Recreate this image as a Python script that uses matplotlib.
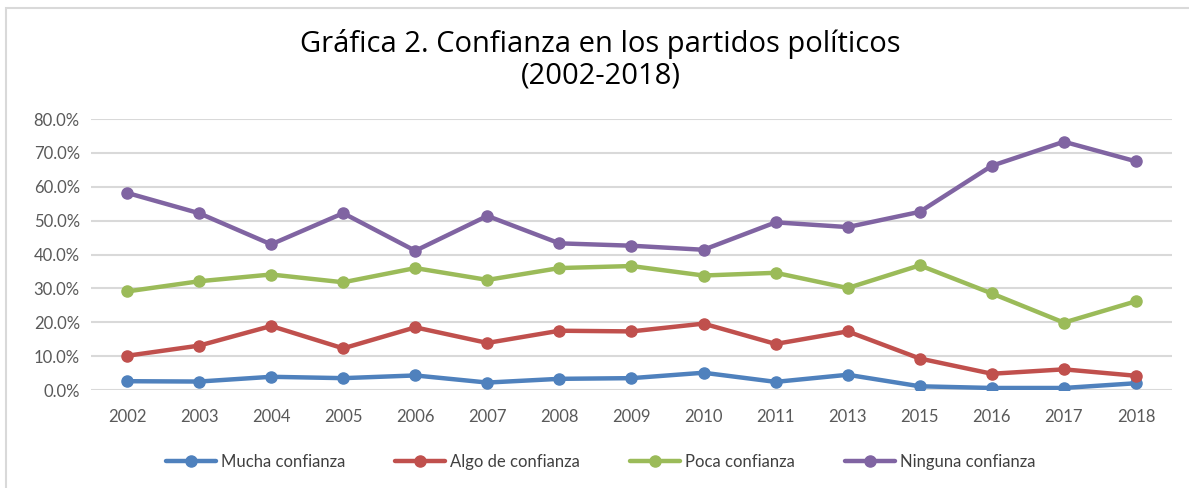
import matplotlib
matplotlib.use('Agg')
import matplotlib.pyplot as plt
from matplotlib.patches import Rectangle
from matplotlib.ticker import PercentFormatter

# ---------- data ----------
years = ['2002', '2003', '2004', '2005', '2006', '2007', '2008', '2009',
         '2010', '2011', '2013', '2015', '2016', '2017', '2018']
mucha = [2.6, 2.5, 3.9, 3.5, 4.3, 2.2, 3.3, 3.5, 5.1, 2.4, 4.5, 1.1, 0.6, 0.6, 2.0]
algo = [10.1, 13.1, 18.9, 12.3, 18.5, 13.9, 17.5, 17.3, 19.6, 13.6, 17.3, 9.3, 4.8, 6.1, 4.2]
poca = [29.1, 32.1, 34.1, 31.8, 36.0, 32.5, 36.0, 36.6, 33.8, 34.6, 30.1, 36.8, 28.5, 19.9, 26.2]
ninguna = [58.2, 52.2, 43.0, 52.2, 41.1, 51.4, 43.3, 42.6, 41.4, 49.5, 48.1, 52.6, 66.2, 73.3, 67.5]

series = [
    ('Mucha confianza', mucha, '#4F81BD'),
    ('Algo de confianza', algo, '#C0504D'),
    ('Poca confianza', poca, '#9BBB59'),
    ('Ninguna confianza', ninguna, '#8064A2'),
]

plt.rcParams['font.family'] = ['Lato', 'DejaVu Sans']

fig = plt.figure(figsize=(11.89, 4.88), dpi=100)
ax = fig.add_axes([0.0765, 0.2008, 0.9092, 0.5553])

x = list(range(len(years)))
for label, vals, color in series:
    ax.plot(x, vals, color=color, linewidth=3.2, marker='o', markersize=8,
            label=label, solid_capstyle='round')

ax.set_xlim(-0.5, len(years) - 0.5)
ax.set_ylim(0, 80)
ax.set_yticks(range(0, 81, 10))
ax.yaxis.set_major_formatter(PercentFormatter(decimals=1))
ax.set_xticks(x)
ax.set_xticklabels(years)
ax.grid(axis='y', color='#D9D9D9', linewidth=1.5)
ax.set_axisbelow(True)
for s in ax.spines.values():
    s.set_visible(False)
ax.tick_params(length=0, labelsize=12, colors='#595959', pad=8)
ax.tick_params(axis='x', pad=14)

# title (two lines, centred over the chart)
title_font = ['Open Sans', 'DejaVu Sans']
fig.text(0.505, 0.91, 'Gráfica 2. Confianza en los partidos políticos',
         ha='center', va='center', fontsize=21, family=title_font)
fig.text(0.505, 0.845, '(2002-2018)', ha='center', va='center', fontsize=21,
         family=title_font)

fig.legend(loc='center', bbox_to_anchor=(0.505, 0.053), ncol=4, frameon=False,
           fontsize=12, handlelength=3.0, columnspacing=3.0, handletextpad=0.3,
           labelcolor='#404040')

# light frame around the chart area (right/bottom edges fall outside the image)
fig.patches.append(Rectangle((6 / 1189, -0.1), 1.2, 1.1 - 8 / 488,
                             transform=fig.transFigure, fill=False,
                             edgecolor='#D9D9D9', linewidth=1.5))

fig.savefig('out.png', dpi=100)
